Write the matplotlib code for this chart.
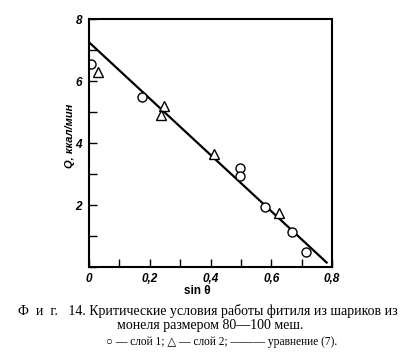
import matplotlib
matplotlib.use("Agg")
import matplotlib.pyplot as plt
from matplotlib.ticker import MultipleLocator, FixedLocator

# data
circle_x = [0.005, 0.174, 0.497, 0.497, 0.58, 0.668, 0.716]
circle_y = [6.55, 5.5, 3.19, 2.94, 1.92, 1.13, 0.48]
tri_x = [0.03, 0.248, 0.238, 0.413, 0.626]
tri_y = [6.3, 5.18, 4.9, 3.66, 1.75]
line_x = [0.0, 0.785]
line_y = [7.25, 0.12]
xticks = [0, 0.2, 0.4, 0.6, 0.8]
xticklabels = ["0", "0,2", "0,4", "0,6", "0,8"]
yticks = [2, 4, 6, 8]
yticklabels = ["2", "4", "6", "8"]

fig = plt.figure(figsize=(4.13, 3.55), dpi=100)
ax = fig.add_axes([89/413, 1-267/355, 243/413, 248/355])
ax.set_xlim(0, 0.8)
ax.set_ylim(0, 8)

ax.plot(line_x, line_y, color="black", lw=1.6, solid_capstyle="butt")
ax.plot(circle_x, circle_y, linestyle="none", marker="o", ms=6.5, mfc="white",
        mec="black", mew=1.0)
ax.plot(tri_x, tri_y, linestyle="none", marker="^", ms=7.5, mfc="white",
        mec="black", mew=1.0)

for s in ax.spines.values():
    s.set_linewidth(1.5)

ax.xaxis.set_major_locator(FixedLocator(xticks))
ax.yaxis.set_major_locator(FixedLocator(yticks))
ax.xaxis.set_minor_locator(MultipleLocator(0.1))
ax.yaxis.set_minor_locator(MultipleLocator(1))
tfont = dict(family="Liberation Sans", style="italic", weight="bold", size=8.5)
ax.set_xticklabels(xticklabels, fontdict=tfont)
ax.set_yticklabels(yticklabels, fontdict=tfont)
ax.tick_params(which="both", direction="in", length=6, width=1.0, top=False, right=False)
ax.tick_params(axis="x", which="major", pad=4)
ax.tick_params(axis="y", which="major", pad=5)

ax.text(-0.078, 0.53, "Q, ккал/мин", transform=ax.transAxes, rotation=90,
        ha="center", va="center", family="Liberation Sans", style="italic",
        weight="bold", size=8)
fig.text(197/413, 1-291/355, "sin θ", ha="center", va="center",
         family="Liberation Sans", weight="bold", size=8.5)

cap = dict(family="Liberation Serif", color="black")
fig.text(208/413, 1-311/355,
         "Ф  и  г.   14. Критические условия работы фитиля из шариков из",
         ha="center", va="center", size=10, **cap)
fig.text(210/413, 1-326/355, "монеля размером 80—100 меш.",
         ha="center", va="center", size=10, **cap)
fig.text(222/413, 1-342/355,
         "○ — слой 1; △ — слой 2; ——— уравнение (7).",
         ha="center", va="center", size=8.3, family=["Liberation Serif", "DejaVu Sans"])

fig.savefig("out.png", dpi=100)
